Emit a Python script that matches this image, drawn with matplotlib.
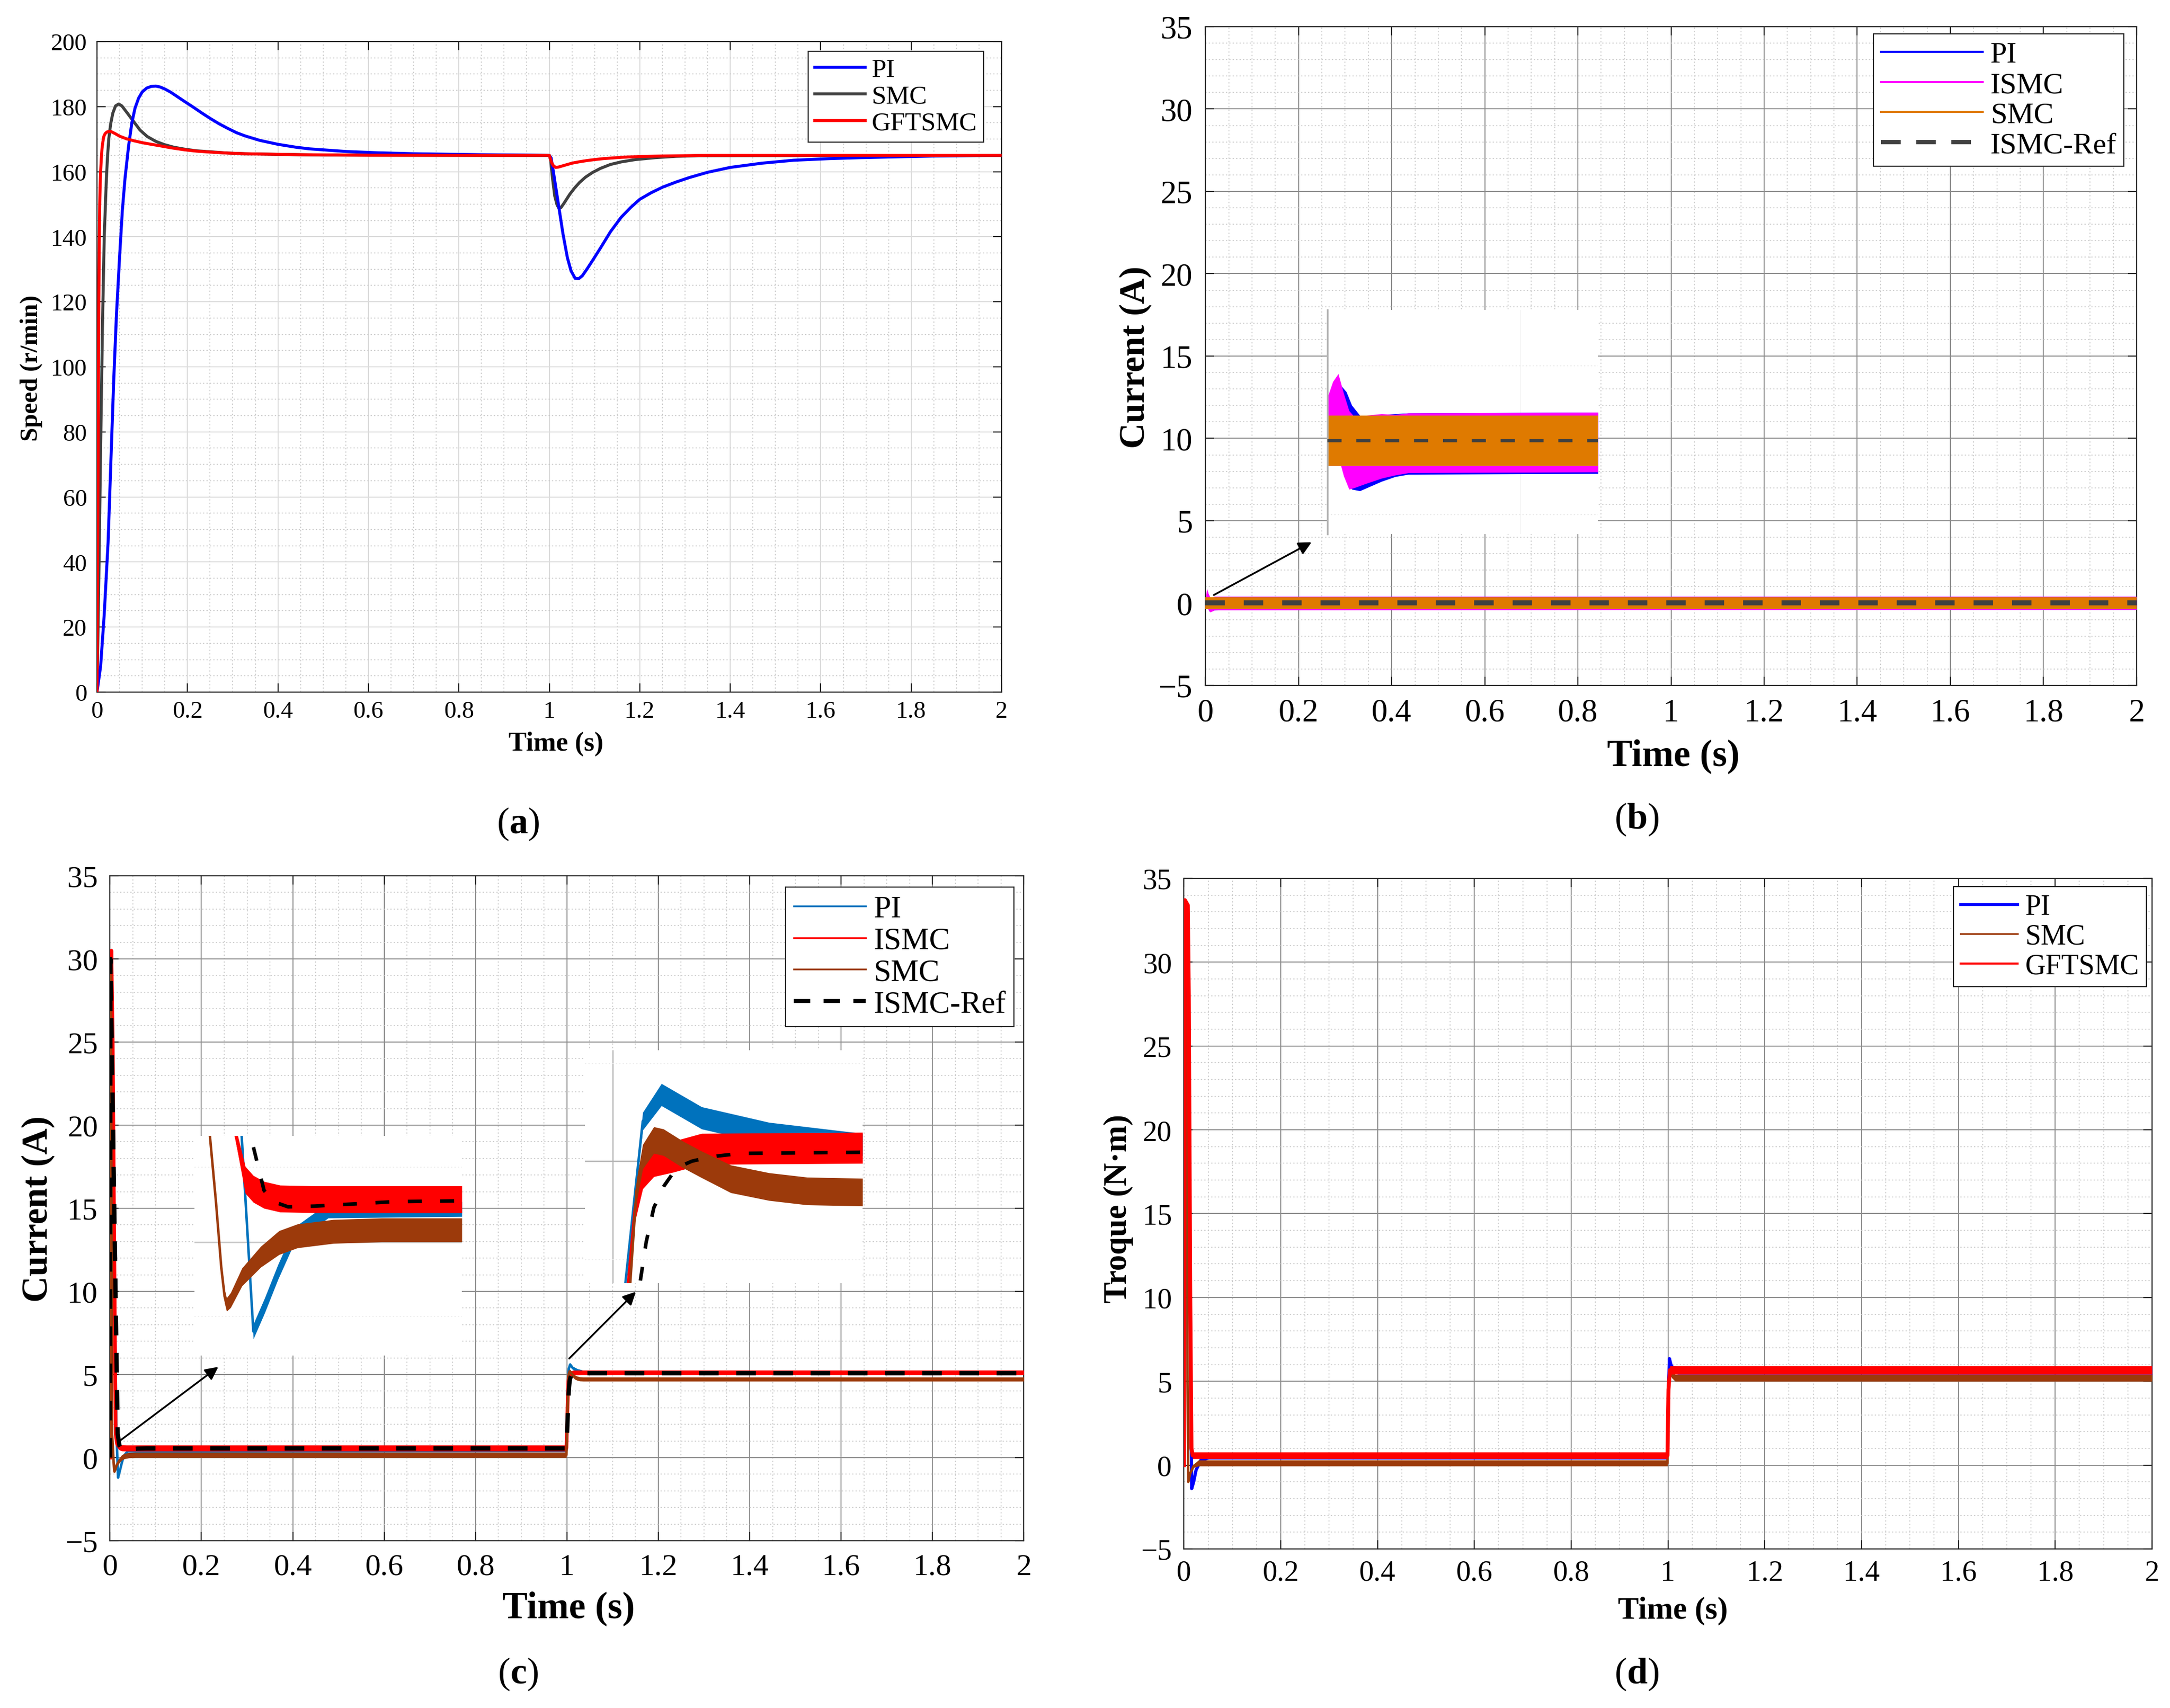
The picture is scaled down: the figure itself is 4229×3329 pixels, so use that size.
import numpy as np
import matplotlib
matplotlib.use("Agg")
import matplotlib.pyplot as plt
from matplotlib.lines import Line2D
from matplotlib.ticker import MultipleLocator

plt.rcParams['font.family'] = ['Liberation Serif', 'DejaVu Serif']
plt.rcParams['mathtext.fontset'] = 'custom'
plt.rcParams['mathtext.rm'] = 'Liberation Serif'
plt.rcParams['mathtext.bf'] = 'Liberation Serif:bold'

# ---------------- ticks ----------------
time_ticks = [0, 0.2, 0.4, 0.6, 0.8, 1, 1.2, 1.4, 1.6, 1.8, 2]
time_labels = ['0', '0.2', '0.4', '0.6', '0.8', '1', '1.2', '1.4', '1.6', '1.8', '2']
speed_ticks = [0, 20, 40, 60, 80, 100, 120, 140, 160, 180, 200]
speed_labels = ['0', '20', '40', '60', '80', '100', '120', '140', '160', '180', '200']
amp_ticks = [-5, 0, 5, 10, 15, 20, 25, 30, 35]
amp_labels = ['\u22125', '0', '5', '10', '15', '20', '25', '30', '35']

# ---------------- (a) speed ----------------
a_pi_t = [0, 0.008, 0.016, 0.0245, 0.031, 0.037, 0.043, 0.05, 0.056, 0.062, 0.07, 0.077,
          0.084, 0.092, 0.1, 0.11, 0.12, 0.13, 0.14, 0.15, 0.162, 0.175, 0.19, 0.213,
          0.232, 0.251, 0.27, 0.289, 0.308, 0.327, 0.36, 0.4, 0.44, 0.47, 0.51, 0.55,
          0.62, 0.7, 0.85, 1.0, 1.004, 1.01, 1.02, 1.03, 1.04, 1.048, 1.057, 1.065, 1.073,
          1.083, 1.097, 1.113, 1.135, 1.159, 1.18, 1.2, 1.225, 1.25, 1.28, 1.31, 1.35,
          1.4, 1.47, 1.54, 1.62, 1.69, 1.85, 2.0]
a_pi_v = [0, 8, 24, 46, 72, 96, 116, 134, 148, 158, 168, 175,
          179.5, 182.6, 184.5, 185.7, 186.2, 186.3, 186, 185.4, 184.5, 183.3, 181.9, 179.8,
          178, 176.3, 174.7, 173.3, 172, 171, 169.6, 168.4, 167.5, 167, 166.6, 166.2,
          165.8, 165.5, 165.2, 165, 164.2, 159, 150, 141, 133.5, 129.5, 127.2, 127.1, 128,
          130, 133, 136.5, 141.5, 146, 149, 151.5, 153.5, 155.2, 156.8, 158.2, 159.8,
          161.3, 162.6, 163.5, 164, 164.3, 164.8, 165]
a_smc_t = [0, 0.004, 0.008, 0.012, 0.016, 0.0204, 0.023, 0.026, 0.03, 0.035, 0.041, 0.048,
           0.055, 0.066, 0.081, 0.095, 0.111, 0.13, 0.149, 0.17, 0.194, 0.22, 0.251, 0.29,
           0.327, 0.4, 0.5, 1.0, 1.003, 1.007, 1.012, 1.017, 1.021, 1.026, 1.032, 1.045,
           1.056, 1.067, 1.08, 1.095, 1.113, 1.135, 1.159, 1.19, 1.235, 1.28, 1.33, 2.0]
a_smc_v = [0, 35, 75, 112, 140, 156.6, 164, 170, 174.5, 178, 180.2, 180.8,
           180.2, 178.2, 175.4, 172.8, 170.8, 169.3, 168.3, 167.5, 166.9, 166.4, 166.1, 165.7,
           165.5, 165.3, 165.1, 165, 163.5, 158, 152.5, 149.8, 148.8, 149, 150.2, 153,
           155, 156.7, 158.3, 159.7, 161, 162.2, 163, 163.7, 164.3, 164.7, 164.9, 165]
a_gft_t = [0, 0.001, 0.002, 0.003, 0.004, 0.005, 0.006, 0.007, 0.008, 0.0095, 0.011, 0.013,
           0.015, 0.018, 0.022, 0.03, 0.04, 0.05, 0.065, 0.081, 0.1, 0.12, 0.137, 0.165,
           0.194, 0.22, 0.251, 0.29, 0.327, 0.45, 0.6, 1.0, 1.002, 1.005, 1.009, 1.014,
           1.02, 1.03, 1.05, 1.065, 1.083, 1.1, 1.12, 1.16, 1.2, 1.25, 1.35, 2.0]
a_gft_v = [0, 30, 60, 92, 120, 138, 150, 156, 160, 164, 167, 169.2,
           170.8, 171.7, 172.2, 172.4, 171.7, 170.9, 170.1, 169.5, 168.9, 168.4, 168, 167.3,
           166.7, 166.3, 166, 165.7, 165.5, 165.2, 165.05, 165, 164.2, 162.8, 161.8, 161.3,
           161.4, 161.8, 162.6, 163, 163.4, 163.7, 164, 164.4, 164.65, 164.8, 165, 165]

# ---------------- (b) current, band limits ----------------
b_pi_t = [0, 0.004, 0.008, 0.012, 0.02, 0.03, 2.0]
b_pi_hi = [0.1, 0.75, 0.4, 0.3, 0.38, 0.4, 0.4]
b_pi_lo = [-0.1, -0.2, -0.5, -0.5, -0.42, -0.4, -0.4]
b_ismc_t = [0, 0.003, 0.006, 0.01, 0.02, 2.0]
b_ismc_hi = [0.2, 0.9, 0.6, 0.35, 0.4, 0.4]
b_ismc_lo = [0.0, -0.1, -0.4, -0.55, -0.42, -0.4]
b_smc_t = [0, 2.0]
b_smc_hi = [0.35, 0.35]
b_smc_lo = [-0.35, -0.35]
b_ref_t = [0, 2.0]
b_ref_v = [0, 0]
# zoomed view of the start
bz_pi_t = [0, 0.003, 0.005, 0.007, 0.009, 0.012, 0.016, 0.02, 0.025, 0.03, 0.1]
bz_pi_hi = [0.3, 0.55, 0.7, 0.62, 0.45, 0.32, 0.3, 0.33, 0.34, 0.35, 0.36]
bz_pi_lo = [0.0, -0.1, -0.3, -0.5, -0.62, -0.64, -0.58, -0.52, -0.46, -0.43, -0.42]
bz_ismc_t = [0, 0.002, 0.004, 0.006, 0.008, 0.01, 0.014, 0.02, 0.025, 0.03, 0.1]
bz_ismc_hi = [0.55, 0.75, 0.85, 0.6, 0.38, 0.3, 0.32, 0.34, 0.33, 0.35, 0.36]
bz_ismc_lo = [0.05, -0.05, -0.2, -0.45, -0.62, -0.6, -0.55, -0.48, -0.44, -0.41, -0.4]
bz_smc_t = [0, 0.1]
bz_smc_hi = [0.32, 0.32]
bz_smc_lo = [-0.32, -0.32]

# ---------------- (c) current: centre and half band ----------------
c_pi_t = [0, 0.002, 0.006, 0.01, 0.014, 0.0176, 0.021, 0.025, 0.03, 0.04, 0.999, 1.0018,
          1.0043, 1.007, 1.0128, 1.0225, 1.036, 2.0]
c_pi_v = [0, 30.3, 22, 10, 1.5, -1.2, -0.85, -0.4, 0.1, 0.42, 0.44, 3.9,
          5.36, 5.6, 5.39, 5.25, 5.15, 5.15]
c_pi_w = [0, 0, 0, 0, 0.05, 0.1, 0.1, 0.1, 0.1, 0.1, 0.1, 0,
          0.08, 0.1, 0.1, 0.1, 0.1, 0.1]
c_ismc_t = [0, 0.003, 0.006, 0.0124, 0.0152, 0.0176, 0.0208, 0.0256, 0.036, 0.999,
            1.0022, 1.0032, 1.0043, 1.0059, 1.0087, 1.0128, 1.036, 2.0]
c_ismc_v = [0, 30.5, 25, 1.42, 0.83, 0.71, 0.63, 0.58, 0.57, 0.57,
            3.9, 4.58, 4.89, 5.0, 5.04, 5.11, 5.12, 5.12]
c_ismc_w = [0, 0, 0, 0.1, 0.18, 0.18, 0.18, 0.18, 0.18, 0.18,
            0, 0.12, 0.14, 0.14, 0.14, 0.14, 0.14, 0.14]
c_smc_t = [0, 0.002, 0.0046, 0.0064, 0.008, 0.009, 0.0096, 0.0108, 0.0142, 0.0198, 0.0253,
           0.0308, 0.0416, 0.056, 0.999, 1.0025, 1.0034, 1.0043, 1.0059, 1.0073, 1.0101,
           1.0128, 1.017, 1.0225, 1.028, 1.036, 2.0]
c_smc_v = [0, 29, 1.42, 0.54, -0.34, -0.73, -0.84, -0.78, -0.47, -0.2, -0.01,
           0.08, 0.14, 0.16, 0.16, 3.9, 4.73, 5.04, 5.19, 5.17, 5.06,
           4.97, 4.84, 4.77, 4.73, 4.72, 4.72]
c_smc_w = [0, 0, 0.03, 0.06, 0.08, 0.09, 0.09, 0.1, 0.12, 0.14, 0.16,
           0.16, 0.16, 0.16, 0.16, 0, 0.1, 0.11, 0.12, 0.12, 0.12,
           0.12, 0.125, 0.125, 0.125, 0.125, 0.125]
c_ref_t = [0, 0.001, 0.0168, 0.0208, 0.0236, 0.028, 0.036, 0.048, 0.06, 0.08, 0.999,
           1.0039, 1.0048, 1.0059, 1.0073, 1.0092, 1.0114, 1.0142, 1.0184, 1.036, 2.0]
c_ref_v = [0, 30, 1.42, 0.69, 0.54, 0.47, 0.48, 0.51, 0.54, 0.55, 0.55,
           3.9, 4.27, 4.58, 4.77, 4.94, 5.0, 5.04, 5.07, 5.08, 5.08]

# ---------------- (d) torque ----------------
d_pi_t = [0, 0.003, 0.009, 0.0135, 0.016, 0.02, 0.025, 0.035, 0.05, 0.999, 1.001, 1.003,
          1.006, 1.01, 1.02, 2.0]
d_pi_v = [0, 28.5, 28.5, 8, -1.4, -1.0, -0.3, 0.3, 0.55, 0.55, 4.5, 6.35,
          6.0, 5.75, 5.65, 5.65]
d_pi_w = [0, 0, 0, 0, 0, 0.05, 0.1, 0.15, 0.2, 0.2, 0, 0.05, 0.1, 0.2, 0.25, 0.25]
d_smc_t = [0, 0.002, 0.005, 0.0075, 0.009, 0.013, 0.02, 0.03, 0.999, 1.001, 1.004, 1.008,
           1.015, 2.0]
d_smc_v = [0, 30, 25, 5, -1.0, -0.5, -0.05, 0.12, 0.12, 4.5, 5.5, 5.35, 5.2, 5.2]
d_smc_w = [0, 0, 0, 0, 0, 0.05, 0.1, 0.18, 0.18, 0, 0.1, 0.15, 0.2, 0.2]
d_gft_t = [0, 0.002, 0.008, 0.01, 0.013, 0.0155, 0.018, 0.999, 1.001, 1.004, 2.0]
d_gft_v = [0, 33.7, 33.4, 28, 10, 1.0, 0.58, 0.58, 4.5, 5.67, 5.67]
d_gft_w = [0, 0, 0, 0, 0, 0.05, 0.2, 0.2, 0, 0.25, 0.25]

BLUE = '#0000FF'
RED = '#FF0000'
GREY = '#404040'
MAGENTA = '#FF00FF'
ORANGE = '#DF7A00'
STEEL = '#0072BD'
BROWN = '#9C3A0B'
AX = '#262626'


def setup(ax, yticks, ylabels, yminor, tsize, gcolor, xpad, ypad):
    ax.set_xlim(0, 2)
    ax.set_ylim(yticks[0], yticks[-1])
    ax.set_xticks(time_ticks, time_labels)
    ax.set_yticks(yticks, ylabels)
    ax.xaxis.set_minor_locator(MultipleLocator(0.05))
    ax.yaxis.set_minor_locator(MultipleLocator(yminor))
    ax.grid(True, which='major', color=gcolor, lw=1.4)
    ax.grid(True, which='minor', color='#c8c8c8', lw=1.2, ls=(0, (1.5, 2.5)))
    ax.set_axisbelow(True)
    ax.tick_params(which='major', direction='in', top=True, right=True, length=12,
                   width=1.6, color=AX, labelsize=tsize)
    ax.tick_params(which='minor', length=0)
    ax.tick_params(axis='x', pad=xpad)
    ax.tick_params(axis='y', pad=ypad)
    for sp in ax.spines.values():
        sp.set_color(AX)
        sp.set_linewidth(1.6)


def band(ax, t, v, w, color, lw, z=3):
    t = np.array(t)
    v = np.array(v)
    w = np.array(w)
    ax.fill_between(t, v - w, v + w, color=color, lw=0, zorder=z)
    ax.plot(t, v, color=color, lw=lw, zorder=z, solid_joinstyle='round')


def make_inset(ax, bounds, xlim, ylim):
    ins = ax.inset_axes(bounds, transform=ax.transData, zorder=6)
    ins.set_xlim(xlim)
    ins.set_ylim(ylim)
    ins.set_xticks([])
    ins.set_yticks([])
    for sp in ins.spines.values():
        sp.set_visible(False)
    ins.set_facecolor('white')
    return ins


def legend(ax, handles, labels, anchor, fs, hl):
    leg = ax.legend(handles, labels, loc='upper right', bbox_to_anchor=anchor,
                    borderaxespad=0, fancybox=False, framealpha=1, edgecolor=AX,
                    fontsize=fs, handlelength=hl, handletextpad=0.25,
                    labelspacing=0.1, borderpad=0.25)
    leg.get_frame().set_linewidth(1.6)
    leg.set_zorder(10)


def arrow(ax, tail, head):
    ax.annotate('', xy=head, xytext=tail, zorder=9,
                arrowprops=dict(arrowstyle='-|>', color='black', lw=2.5,
                                mutation_scale=38, shrinkA=0, shrinkB=0))


fig = plt.figure(figsize=(42.29, 33.30), dpi=100)

# ===== (a) =====
ax = fig.add_axes([0.0447, 0.5946, 0.4169, 0.3808])
setup(ax, speed_ticks, speed_labels, 5, 34, '#dcdcdc', 12, 14)
l_smc, = ax.plot(a_smc_t, a_smc_v, color=GREY, lw=4.2, zorder=3, solid_joinstyle='round')
l_pi, = ax.plot(a_pi_t, a_pi_v, color=BLUE, lw=4.2, zorder=3, solid_joinstyle='round')
l_gft, = ax.plot(a_gft_t, a_gft_v, color=RED, lw=4.2, zorder=3, solid_joinstyle='round')
legend(ax, [l_pi, l_smc, l_gft], ['PI', 'SMC', 'GFTSMC'], (0.98, 0.985), 37, 1.9)
fig.text(0.2563, 0.5646, 'Time (s)', fontsize=38, fontweight='bold', ha='center', va='center')
fig.text(0.0144, 0.7845, 'Speed (r/min)', fontsize=35, fontweight='bold', ha='center',
         va='center', rotation=90)
fig.text(0.2387, 0.5177, r'($\mathbf{a}$)', fontsize=52, ha='center', va='center')

# ===== (b) =====
ax = fig.add_axes([0.5555, 0.5985, 0.4291, 0.3856])
setup(ax, amp_ticks, amp_labels, 1, 45, '#8c8c8c', 18, 18)
ax.fill_between(b_pi_t, b_pi_lo, b_pi_hi, color=BLUE, lw=0, zorder=3)
ax.fill_between(b_ismc_t, b_ismc_lo, b_ismc_hi, color=MAGENTA, lw=0, zorder=3)
ax.fill_between(b_smc_t, b_smc_lo, b_smc_hi, color=ORANGE, lw=0, zorder=3)
ax.plot(b_ref_t, b_ref_v, color=GREY, lw=7, dashes=(3.9, 3.8), zorder=4)
ins = make_inset(ax, [0.262, 4.19, 0.581, 13.6], (0, 0.1), (-1.19, 1.66))
ins.spines['left'].set_visible(True)
ins.spines['left'].set_color('#b4b4b4')
ins.spines['left'].set_linewidth(2.5)
ins.axhline(0.95, color='#e6e6e6', lw=1.2, ls=(0, (1.5, 2.5)), zorder=0.5)
ins.axhline(-0.94, color='#e6e6e6', lw=1.2, ls=(0, (1.5, 2.5)), zorder=0.5)
ins.axvline(0.0714, color='#f2f2f2', lw=1, zorder=0.5)
ins.fill_between(bz_pi_t, bz_pi_lo, bz_pi_hi, color=BLUE, lw=0, zorder=2)
ins.fill_between(bz_ismc_t, bz_ismc_lo, bz_ismc_hi, color=MAGENTA, lw=0, zorder=2)
ins.fill_between(bz_smc_t, bz_smc_lo, bz_smc_hi, color=ORANGE, lw=0, zorder=2)
ins.plot(bz_smc_t, [0, 0], color=GREY, lw=4.5, dashes=(4.4, 4.6), zorder=3)
arrow(ax, (0.018, 0.49), (0.228, 3.7))
hb = [Line2D([], [], color=BLUE, lw=3), Line2D([], [], color=MAGENTA, lw=3),
      Line2D([], [], color=ORANGE, lw=3), Line2D([], [], color=GREY, lw=6, dashes=(4.6, 3.6))]
legend(ax, hb, ['PI', 'ISMC', 'SMC', 'ISMC-Ref'], (0.9865, 0.989), 42, 3.4)
fig.text(0.7711, 0.5574, 'Time (s)', fontsize=53, fontweight='bold', ha='center', va='center')
fig.text(0.5232, 0.7908, 'Current (A)', fontsize=50, fontweight='bold', ha='center',
         va='center', rotation=90)
fig.text(0.7541, 0.5205, r'($\mathbf{b}$)', fontsize=52, ha='center', va='center')

# ===== (c) =====
ax = fig.add_axes([0.0507, 0.0979, 0.4211, 0.3892])
setup(ax, amp_ticks, amp_labels, 1, 43, '#8c8c8c', 18, 17)
band(ax, c_pi_t, c_pi_v, c_pi_w, STEEL, 3.5)
band(ax, c_ismc_t, c_ismc_v, c_ismc_w, RED, 5)
band(ax, c_smc_t, c_smc_v, c_smc_w, BROWN, 3.5)
ax.plot(c_ref_t, c_ref_v, color='black', lw=6, dashes=(4.6, 4.1), zorder=4)

# zoom of start-up transient
ins = make_inset(ax, [0.185, 6.15, 0.585, 13.2], (0, 0.08), (-1.52, 1.42))
ins.axhline(0, color='#c8c8c8', lw=2, zorder=0.5)
ins.axhline(1, color='#ececec', lw=1.2, ls=(0, (1.5, 2.5)), zorder=0.5)
ins.axhline(-1, color='#ececec', lw=1.2, ls=(0, (1.5, 2.5)), zorder=0.5)
band(ins, [0.012] + c_pi_t[4:10] + [0.08],
     [3.0] + c_pi_v[4:10] + [0.44], [0] + c_pi_w[4:10] + [0.1], STEEL, 3.5, 2)
band(ins, [0.0118] + c_ismc_t[3:9] + [0.08],
     [3.0] + c_ismc_v[3:9] + [0.57], [0] + c_ismc_w[3:9] + [0.18], RED, 4, 2)
band(ins, [0.0042] + c_smc_t[2:14] + [0.08],
     [3.0] + c_smc_v[2:14] + [0.16], [0] + c_smc_w[2:14] + [0.16], BROWN, 3.5, 2)
ins.plot([0.015] + c_ref_t[2:10], [3.0] + c_ref_v[2:10], color='black', lw=5,
         dashes=(3.9, 5.2), zorder=4)

# zoom of load step
ins2 = make_inset(ax, [1.04, 10.5, 0.607, 14.0], (0.996, 1.036), (3.9, 6.0))
ins2.axvline(1.0, color='#c8c8c8', lw=2.5, zorder=0.5)
ins2.axhline(5.0, color='#b4b4b4', lw=2, zorder=0.5)
ins2.axhline(5.88, color='#ececec', lw=1.2, ls=(0, (1.5, 2.5)), zorder=0.5)
ins2.axhline(4.11, color='#ececec', lw=1.2, ls=(0, (1.5, 2.5)), zorder=0.5)
band(ins2, [1.0005] + c_pi_t[11:17], [1.0] + c_pi_v[11:17], [0] + c_pi_w[11:17], STEEL, 3.5, 2)
band(ins2, [1.001] + c_ismc_t[10:17], [1.0] + c_ismc_v[10:17], [0] + c_ismc_w[10:17], RED, 4, 2)
band(ins2, [1.0012] + c_smc_t[15:26], [1.0] + c_smc_v[15:26], [0] + c_smc_w[15:26], BROWN, 3.5, 2)
ins2.plot([1.0018] + c_ref_t[11:20], [1.0] + c_ref_v[11:20], color='black', lw=5,
          dashes=(3.9, 5.2), zorder=4)

arrow(ax, (0.018, 0.94), (0.237, 5.46))
arrow(ax, (1.005, 5.96), (1.151, 9.98))
hc = [Line2D([], [], color=STEEL, lw=2.5), Line2D([], [], color=RED, lw=2.5),
      Line2D([], [], color=BROWN, lw=2.5), Line2D([], [], color='black', lw=5.5, dashes=(4.2, 3.4))]
legend(ax, hc, ['PI', 'ISMC', 'SMC', 'ISMC-Ref'], (0.989, 0.983), 44, 2.3)
fig.text(0.262, 0.0585, 'Time (s)', fontsize=53, fontweight='bold', ha='center', va='center')
fig.text(0.0175, 0.2925, 'Current (A)', fontsize=51, fontweight='bold', ha='center',
         va='center', rotation=90)
fig.text(0.2387, 0.0201, r'($\mathbf{c}$)', fontsize=52, ha='center', va='center')

# ===== (d) =====
ax = fig.add_axes([0.5456, 0.0931, 0.4461, 0.3925])
setup(ax, amp_ticks, amp_labels, 1, 41, '#8c8c8c', 15, 17)
band(ax, d_pi_t, d_pi_v, d_pi_w, BLUE, 4.5)
band(ax, d_smc_t, d_smc_v, d_smc_w, BROWN, 3.5)
band(ax, d_gft_t, d_gft_v, d_gft_w, RED, 5.5)
hd = [Line2D([], [], color=BLUE, lw=4), Line2D([], [], color=BROWN, lw=2.5),
      Line2D([], [], color=RED, lw=3)]
legend(ax, hd, ['PI', 'SMC', 'GFTSMC'], (0.994, 0.9876), 40, 2.0)
fig.text(0.771, 0.057, 'Time (s)', fontsize=44, fontweight='bold', ha='center', va='center')
fig.text(0.5155, 0.2925, 'Troque (N\u00b7m)', fontsize=45, fontweight='bold', ha='center',
         va='center', rotation=90)
fig.text(0.7541, 0.0201, r'($\mathbf{d}$)', fontsize=52, ha='center', va='center')

fig.savefig('out.png', dpi=100, facecolor='white')
